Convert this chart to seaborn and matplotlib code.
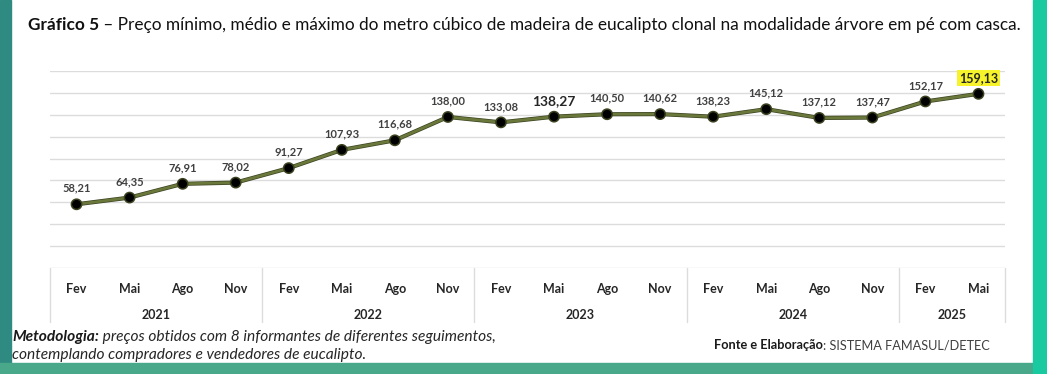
import matplotlib
matplotlib.use("Agg")
import matplotlib.pyplot as plt
import matplotlib.transforms as mtransforms
import matplotlib.patheffects as pe
from matplotlib.patches import Rectangle
import numpy as np
import pandas as pd
import seaborn as sns

# dados do gráfico (R$/m³)
meses = ["Fev", "Mai", "Ago", "Nov"] * 4 + ["Fev", "Mai"]
anos = ["2021", "2022", "2023", "2024", "2025"]
meses_por_ano = [4, 4, 4, 4, 2]
precos = [58.21, 64.35, 76.91, 78.02, 91.27, 107.93, 116.68, 138.00, 133.08,
          138.27, 140.50, 140.62, 138.23, 145.12, 137.12, 137.47, 152.17, 159.13]

df = pd.DataFrame({"pos": range(len(precos)), "preco": precos})

sns.set_theme(style="white")
plt.rcParams["font.family"] = ["Lato", "DejaVu Sans"]

W, H = 1047, 374
fig = plt.figure(figsize=(W / 100, H / 100), dpi=100)
ax = fig.add_axes([50 / W, 106 / H, 955 / W, 197 / H])

sns.lineplot(data=df, x="pos", y="preco", ax=ax, color="#6b783c", linewidth=2.0,
             marker="o", markersize=5.5, markerfacecolor="black",
             markeredgecolor="black",
             path_effects=[pe.Stroke(linewidth=3.0, foreground="#3a4220"), pe.Normal()])

ax.set_xlim(-0.5, len(precos) - 0.5)
ax.set_ylim(0, 180)
ax.set_yticks(range(0, 181, 20))
ax.set_yticklabels([])
ax.yaxis.grid(True, color="#dcdcdc", linewidth=1)
ax.set_axisbelow(True)
for s in ax.spines.values():
    s.set_visible(False)
ax.set_xticks(range(len(meses)))
ax.set_xticklabels(meses, fontsize=9, fontweight="bold", color="#262626")
ax.tick_params(left=False, bottom=False, axis="x", pad=5)
ax.set_xlabel("")
ax.set_ylabel("")

# anos e separadores
trans = mtransforms.blended_transform_factory(ax.transData, ax.transAxes)
limites = np.concatenate([[0], np.cumsum(meses_por_ano)]) - 0.5
for b in limites:
    ax.plot([b, b], [0, -54 / 197], transform=trans, color="#dcdcdc", lw=1, clip_on=False)
for i, ano in enumerate(anos):
    centro = (limites[i] + limites[i + 1]) / 2
    ax.text(centro, -47 / 197, ano, transform=trans, ha="center", va="center",
            fontsize=9, fontweight="bold", color="#262626")

# rótulos dos pontos
for i, v in enumerate(precos):
    txt = f"{v:.2f}".replace(".", ",")
    kw = dict(fontsize=8, fontweight="bold", color="#404040")
    if i == 9:
        kw["fontsize"] = 10
        kw["color"] = "#262626"
    if i == len(precos) - 1:
        kw["fontsize"] = 9
        kw["color"] = "#262626"
        kw["bbox"] = dict(boxstyle="square,pad=0.15", fc="#f7f32a", ec="none")
    ax.annotate(txt, (i, v), xytext=(0, 16), textcoords="offset pixels",
                ha="center", va="center", **kw)

# título
renderer = fig.canvas.get_renderer()
t1 = fig.text(28 / W, 1 - 25 / H, "Gráfico 5", fontsize=12.4, fontweight="bold",
              va="center", color="#111111")
bb = t1.get_window_extent(renderer)
fig.text(bb.x1 / W, 1 - 25 / H,
         " – Preço mínimo, médio e máximo do metro cúbico de madeira de eucalipto clonal na modalidade árvore em pé com casca.",
         fontsize=12.4, va="center", color="#111111")

# notas
m1 = fig.text(12 / W, 1 - 337 / H, "Metodologia:", fontsize=11.2, fontweight="bold",
              style="italic", va="center", color="#1a1a1a")
bb = m1.get_window_extent(renderer)
fig.text(bb.x1 / W, 1 - 337 / H, " preços obtidos com 8 informantes de diferentes seguimentos,",
         fontsize=11.2, style="italic", va="center", color="#262626")
fig.text(12 / W, 1 - 355 / H, "contemplando compradores e vendedores de eucalipto.",
         fontsize=11.2, style="italic", va="center", color="#262626")
f1 = fig.text(714 / W, 1 - 345 / H, "Fonte e Elaboração", fontsize=9.2, fontweight="bold",
              va="center", color="#1a1a1a")
bb = f1.get_window_extent(renderer)
fig.text(bb.x1 / W, 1 - 345 / H, ": SISTEMA FAMASUL/DETEC", fontsize=9.2,
         va="center", color="#404040")

# moldura
fig.patches.append(Rectangle((0, 0), 11 / W, 1, transform=fig.transFigure, color="#2f8a82", zorder=0))
fig.patches.append(Rectangle((0, 0), 1, 11 / H, transform=fig.transFigure, color="#4aa88a", zorder=0))
fig.patches.append(Rectangle((1033 / W, 0), 14 / W, 1, transform=fig.transFigure, color="#19c9a0", zorder=0))

fig.savefig("out.png", dpi=100)
plt.close(fig)
